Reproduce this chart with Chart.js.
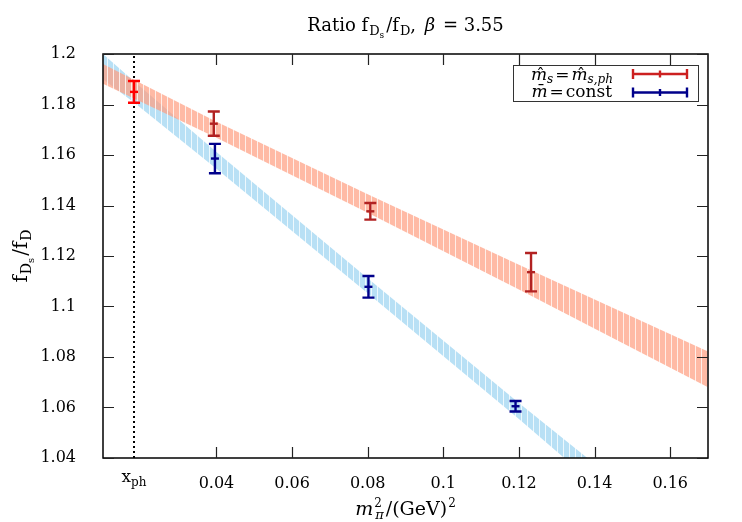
<!DOCTYPE html>
<html><head><meta charset="utf-8">
<script src="https://cdn.jsdelivr.net/npm/chart.js@4/dist/chart.umd.min.js"></script>
<style>html,body{margin:0;padding:0;background:#fff}</style>
</head><body>
<canvas id="c" width="742" height="522"></canvas>
<script>
// ---- data ----
const xPh = 0.0182;
const xTickValues = [0.0182, 0.04, 0.06, 0.08, 0.10, 0.12, 0.14, 0.16];
const xTickLabels = ['', '0.04', '0.06', '0.08', '0.1', '0.12', '0.14', '0.16'];
const yTickValues = [1.04, 1.06, 1.08, 1.10, 1.12, 1.14, 1.16, 1.18, 1.20];
const yTickLabels = ['1.04', '1.06', '1.08', '1.1', '1.12', '1.14', '1.16', '1.18', '1.2'];

const redPhX = [0.0182];
const redPhY = [1.1850];
const redPhErr = [0.0043];

const redX = [0.0393, 0.0807, 0.1232];
const redY = [1.1724, 1.1377, 1.1136];
const redErr = [0.0048, 0.0033, 0.0076];

const blueX = [0.0396, 0.0802, 0.1191];
const blueY = [1.1586, 1.1078, 1.0605];
const blueErr = [0.0058, 0.0043, 0.0021];

const bandRedX = [0.01, 0.04, 0.08, 0.12, 0.17];
const bandRedUpper = [1.1960, 1.1732, 1.1445, 1.1165, 1.0822];
const bandRedLower = [1.1882, 1.1668, 1.1371, 1.1067, 1.0680];

const bandBlueX = [0.01, 0.0182, 0.04, 0.08, 0.12, 0.14];
const bandBlueUpper = [1.2000, 1.1892, 1.1612, 1.1112, 1.0618, 1.0377];
const bandBlueLower = [1.1900, 1.1808, 1.1546, 1.1052, 1.0554, 1.0297];

// ---- helpers ----
const FONT = '"DejaVu Serif"';
const pts = (xs, ys) => xs.map((x, i) => ({x, y: ys[i]}));

function stripePattern(fill) {
  const c = document.createElement('canvas');
  c.width = 6; c.height = 6;
  const g = c.getContext('2d');
  g.fillStyle = fill; g.fillRect(0, 0, 6, 6);
  g.fillStyle = 'rgba(255,255,255,0.75)'; g.fillRect(5, 0, 1, 6);
  return g.createPattern(c, 'repeat');
}
const ctx = document.getElementById('c').getContext('2d');
const redPat = stripePattern('rgba(255,160,130,0.72)');
const bluePat = stripePattern('rgba(150,210,240,0.68)');

function segFont(s) { return (s.it ? 'italic ' : '') + (s.size || 17) + 'px ' + FONT; }
function drawMath(c, segs, x, y, align) {
  let pos = 0; const items = [];
  for (const s of segs) {
    c.font = segFont(s);
    const w = c.measureText(s.t).width;
    pos += (s.dx || 0);
    items.push({s, x: pos, w});
    pos += (s.adv !== undefined ? s.adv : w);
  }
  const x0 = align === 'center' ? x - pos / 2 : align === 'right' ? x - pos : x;
  c.textAlign = 'left'; c.textBaseline = 'alphabetic'; c.fillStyle = '#000';
  for (const it of items) {
    c.font = segFont(it.s);
    c.fillText(it.s.t, x0 + it.x, y + (it.s.dy || 0));
    if (it.s.acc) {
      c.font = (it.s.size || 17) + 'px ' + FONT;
      const aw = c.measureText(it.s.acc).width;
      c.fillText(it.s.acc, x0 + it.x + it.w / 2 - aw / 2 + 1.5, y + (it.s.accDy || 0));
    }
  }
}

function errBars(chart, xs, ys, es, color) {
  const {ctx: c, scales: {x, y}} = chart;
  c.strokeStyle = color; c.lineWidth = 2.4; c.lineCap = 'butt';
  xs.forEach((xv, i) => {
    const px = x.getPixelForValue(xv);
    const pt = y.getPixelForValue(ys[i] + es[i]);
    const pb = y.getPixelForValue(ys[i] - es[i]);
    c.beginPath();
    c.moveTo(px, pt); c.lineTo(px, pb);
    c.moveTo(px - 6, pt); c.lineTo(px + 6, pt);
    c.moveTo(px - 6, pb); c.lineTo(px + 6, pb);
    c.stroke();
  });
}

const decor = {
  id: 'decor',
  afterDatasetsDraw(chart) {
    const {ctx: c, chartArea: a, scales: {x}} = chart;
    c.save();
    const px = x.getPixelForValue(xPh);
    c.setLineDash([2, 3]); c.lineWidth = 2; c.strokeStyle = '#000';
    c.beginPath(); c.moveTo(px, a.bottom); c.lineTo(px, a.top); c.stroke();
    c.setLineDash([]);
    errBars(chart, redPhX, redPhY, redPhErr, '#ff0000');
    errBars(chart, redX, redY, redErr, '#b22222');
    errBars(chart, blueX, blueY, blueErr, '#00008b');
    c.restore();
  },
  afterDraw(chart) {
    const {ctx: c, chartArea: a, scales: {x, y}} = chart;
    c.save();
    // border
    c.strokeStyle = '#000'; c.lineWidth = 1.5;
    c.strokeRect(a.left, a.top, a.right - a.left, a.bottom - a.top);
    // inward ticks on all sides
    c.lineWidth = 1.2; c.strokeStyle = '#222';
    const tl = 11;
    c.beginPath();
    xTickValues.forEach((v, i) => {
      if (i === 0) return;
      const p = Math.round(x.getPixelForValue(v)) + 0.5;
      c.moveTo(p, a.bottom); c.lineTo(p, a.bottom - tl);
      c.moveTo(p, a.top); c.lineTo(p, a.top + tl);
    });
    yTickValues.forEach(v => {
      const p = Math.round(y.getPixelForValue(v)) + 0.5;
      c.moveTo(a.left, p); c.lineTo(a.left + tl, p);
      c.moveTo(a.right, p); c.lineTo(a.right - tl, p);
    });
    c.stroke();
    // x_ph tick label
    drawMath(c, [{t: 'x', size: 17}, {t: 'ph', size: 12, dy: 3.5}], x.getPixelForValue(xPh), 482, 'center');
    // title
    drawMath(c, [
      {t: 'Ratio f', size: 18}, {t: 'D', size: 13, dy: 4, dx: 1}, {t: 's', size: 9, dy: 6.5},
      {t: '/f', size: 18, dx: 2}, {t: 'D', size: 13, dy: 4, dx: 1}, {t: ',', size: 18},
      {t: ' β', size: 18, it: true, dx: 3}, {t: ' = 3.55', size: 18, dx: 2}
    ], (a.left + a.right) / 2, 31, 'center');
    // x axis label
    drawMath(c, [
      {t: 'm', size: 19, it: true}, {t: '2', size: 12, dy: -8, dx: 1, adv: 0}, {t: 'π', size: 13, it: true, dy: 4, dx: 1},
      {t: '/(GeV)', size: 19, dx: 2}, {t: '2', size: 12, dy: -8, dx: 1}
    ], (a.left + a.right) / 2, 515, 'center');
    // y axis label (rotated)
    c.save();
    c.translate(27, (a.top + a.bottom) / 2);
    c.rotate(-Math.PI / 2);
    drawMath(c, [
      {t: 'f', size: 20}, {t: 'D', size: 14, dy: 4, dx: 1}, {t: 's', size: 10, dy: 7},
      {t: '/f', size: 20, dx: 2}, {t: 'D', size: 14, dy: 4, dx: 1}
    ], 0, 0, 'center');
    c.restore();
    // legend
    c.fillStyle = '#fff'; c.fillRect(513, 65, 185, 36);
    c.strokeStyle = '#333'; c.lineWidth = 1;
    c.strokeRect(513.5, 65.5, 185, 36);
    drawMath(c, [
      {t: 'm', size: 17, it: true, acc: 'ˆ'}, {t: 's', size: 12, it: true, dy: 3},
      {t: '=', size: 17, dx: 2}, {t: 'm', size: 17, it: true, acc: 'ˆ', dx: 2},
      {t: 's,ph', size: 12, it: true, dy: 3}
    ], 613, 80, 'right');
    drawMath(c, [
      {t: 'm', size: 17, it: true, acc: '¯'}, {t: '=', size: 17, dx: 2}, {t: 'const', size: 17, dx: 2}
    ], 612, 97, 'right');
    const legendSample = (yy, col) => {
      c.strokeStyle = col; c.lineWidth = 2.4;
      c.beginPath();
      c.moveTo(633, yy); c.lineTo(687, yy);
      c.moveTo(633, yy - 5); c.lineTo(633, yy + 5);
      c.moveTo(687, yy - 5); c.lineTo(687, yy + 5);
      c.moveTo(660, yy - 3.5); c.lineTo(660, yy + 3.5);
      c.stroke();
    };
    legendSample(74, '#cc2020');
    legendSample(92.5, '#00008b');
    c.restore();
  }
};

const tickFont = {family: 'DejaVu Serif', size: 16};
new Chart(ctx, {
  type: 'scatter',
  data: {
    datasets: [
      {type: 'line', data: pts(bandBlueX, bandBlueUpper), borderWidth: 0, pointRadius: 0, fill: '+1', backgroundColor: bluePat, tension: 0, order: 5},
      {type: 'line', data: pts(bandBlueX, bandBlueLower), borderWidth: 0, pointRadius: 0, fill: false, tension: 0, order: 5},
      {type: 'line', data: pts(bandRedX, bandRedUpper), borderWidth: 0, pointRadius: 0, fill: '+1', backgroundColor: redPat, tension: 0, order: 4},
      {type: 'line', data: pts(bandRedX, bandRedLower), borderWidth: 0, pointRadius: 0, fill: false, tension: 0, order: 4},
      {data: pts(redPhX, redPhY), pointStyle: 'line', pointRadius: 4, borderWidth: 2.4, borderColor: '#ff0000', order: 0},
      {data: pts(redX, redY), pointStyle: 'line', pointRadius: 4, borderWidth: 2.4, borderColor: '#b22222', order: 0},
      {data: pts(blueX, blueY), pointStyle: 'line', pointRadius: 4, borderWidth: 2.4, borderColor: '#00008b', order: 0}
    ]
  },
  options: {
    responsive: false, animation: false, devicePixelRatio: 1,
    layout: {padding: {left: 0, top: 54, right: 34, bottom: 0}},
    plugins: {legend: {display: false}, title: {display: false}, tooltip: {enabled: false}},
    scales: {
      x: {
        type: 'linear', min: 0.01, max: 0.17,
        grid: {display: false}, border: {display: false},
        afterBuildTicks: s => { s.ticks = xTickValues.map(v => ({value: v})); },
        afterFit: s => { s.height = 64; },
        ticks: {autoSkip: false, maxRotation: 0, font: tickFont, color: '#000', padding: 8,
                callback: (v, i) => xTickLabels[i]}
      },
      y: {
        type: 'linear', min: 1.04, max: 1.2,
        grid: {display: false}, border: {display: false},
        afterBuildTicks: s => { s.ticks = yTickValues.map(v => ({value: v})); },
        afterFit: s => { s.width = 103; },
        ticks: {autoSkip: false, font: tickFont, color: '#000', padding: 19,
                callback: (v, i) => yTickLabels[i]}
      }
    }
  },
  plugins: [decor]
});
</script>
</body></html>
